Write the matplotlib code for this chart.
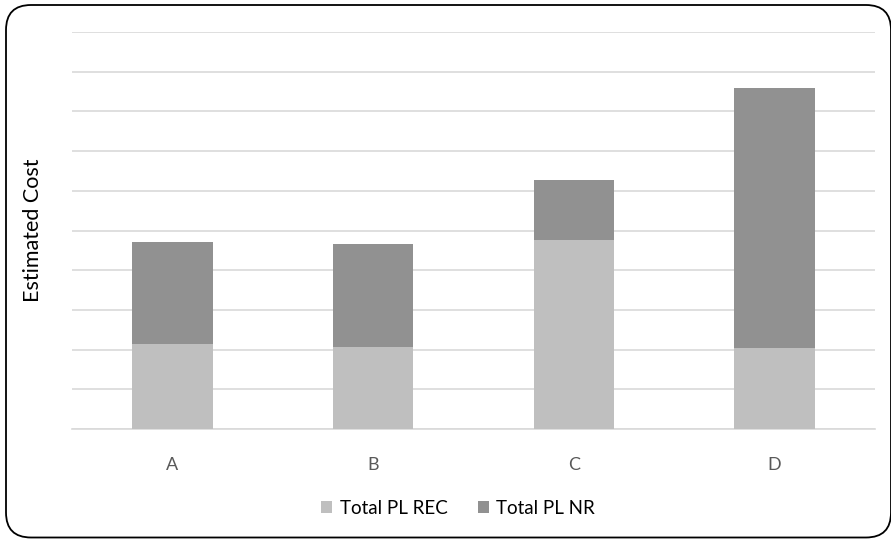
import numpy as np
import matplotlib.pyplot as plt
from matplotlib.patches import FancyBboxPatch

# costes estimados por alternativa
categorias = ['A', 'B', 'C', 'D']
total_pl_rec = [2.14, 2.06, 4.77, 2.04]
total_pl_nr = [2.56, 2.61, 1.49, 6.55]

plt.rcParams['font.family'] = ['Lato', 'DejaVu Sans']

fig = plt.figure(figsize=(8.91, 5.40), dpi=100)
ax = fig.add_axes([72 / 891, 1 - 429 / 540, (875 - 72) / 891, (429 - 32) / 540])

x = np.arange(len(categorias))
ax.bar(x, total_pl_rec, width=0.4, color='#bfbfbf', label='Total PL REC', zorder=3)
ax.bar(x, total_pl_nr, width=0.4, bottom=total_pl_rec, color='#919191',
       label='Total PL NR', zorder=3)

ax.set_xlim(-0.5, len(categorias) - 0.5)
ax.set_ylim(0, 10)
ax.set_yticks(np.arange(0, 11, 1))
ax.set_yticklabels([])
ax.tick_params(axis='y', length=0)
ax.tick_params(axis='x', length=0, pad=20, labelsize=13, labelcolor='#595959')
ax.set_xticks(x)
ax.set_xticklabels(categorias)
ax.grid(axis='y', color='#d9d9d9', linewidth=1.2, zorder=0)
for s in ['top', 'right', 'left']:
    ax.spines[s].set_visible(False)
ax.spines['bottom'].set_color('#d9d9d9')
ax.spines['bottom'].set_linewidth(1.2)

fig.text(33 / 891, 1 - 230 / 540, 'Estimated Cost', rotation=90, fontsize=15.5,
         ha='center', va='center', color='#000000')

fig.legend(loc='center', bbox_to_anchor=(458 / 891, 1 - 508 / 540), ncol=2,
           frameon=False, fontsize=13.5, handlelength=0.6, handleheight=0.6,
           columnspacing=1.6, handletextpad=0.4)

# marco redondeado alrededor de todo
marco = FancyBboxPatch((0.06, 0.025), 8.85, 5.325, boxstyle='round,pad=0,rounding_size=0.25',
                       transform=fig.dpi_scale_trans, facecolor='none',
                       edgecolor='black', linewidth=1.3)
fig.patches.append(marco)

fig.savefig('out.png', dpi=100)
